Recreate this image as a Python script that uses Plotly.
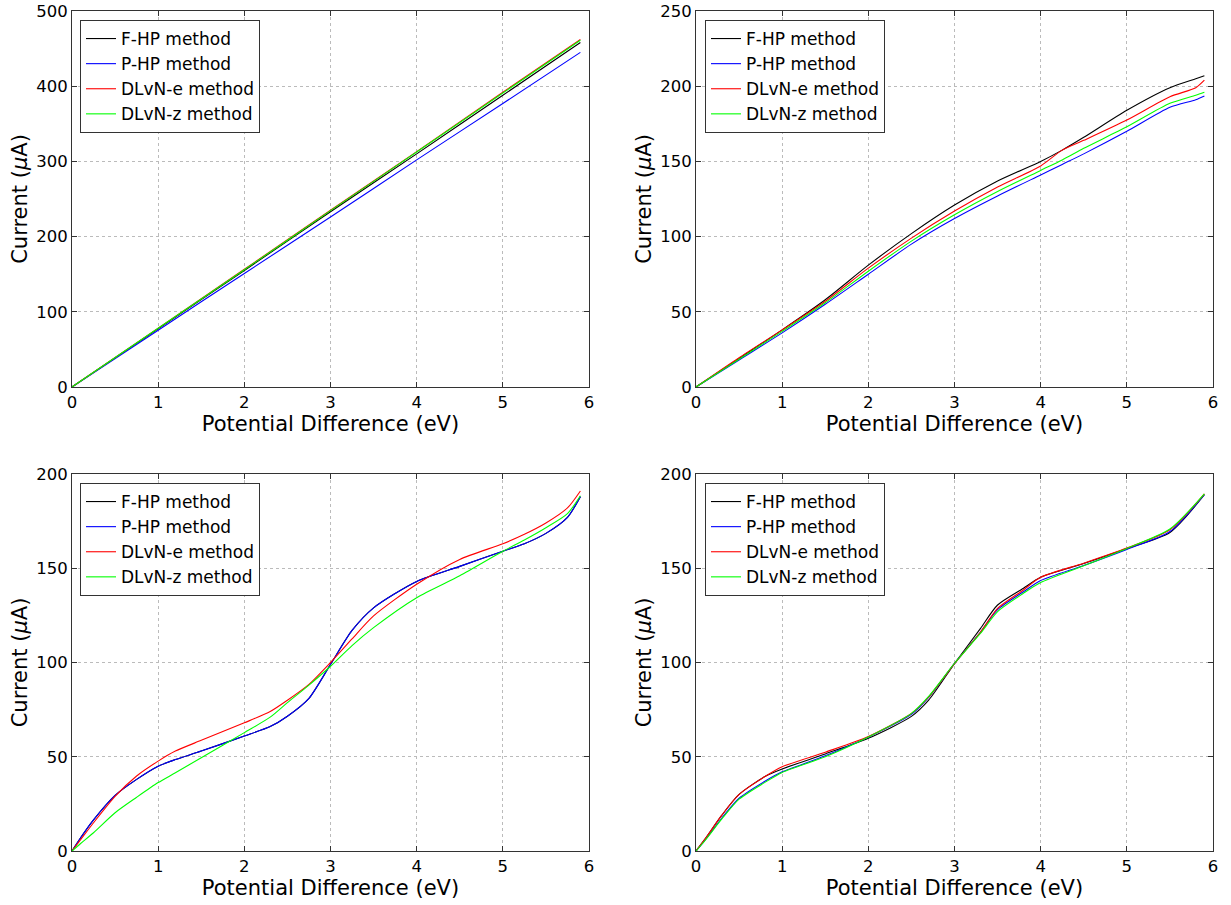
import plotly.graph_objects as go

# four panels of I-V curves, one legend per panel
methods = ["F-HP method", "P-HP method", "DLvN-e method", "DLvN-z method"]
colors = ["#000000", "#0000ff", "#ff0000", "#00ff00"]

# top left
x_tl = [0, 1, 2, 3, 4, 5, 5.9]
fhp_tl = [0, 77.5, 155, 233, 310, 388, 458]
php_tl = [0, 75.5, 151, 226, 302, 377, 445]
dlve_tl = [0, 78.3, 156.5, 235, 313, 392, 462]
dlvz_tl = [0, 78.1, 156, 234.5, 312.5, 391, 461]

# top right
x_tr = [0, 0.5, 1, 1.5, 2, 2.5, 3, 3.5, 4, 4.25, 4.5, 5, 5.5, 5.8, 5.9]
fhp_tr = [0, 19, 38, 58, 81, 102, 121, 137, 150, 157.5, 166, 184, 199, 205, 207]
php_tr = [0, 18, 36, 55, 75, 95, 112, 127, 141, 148, 155, 170, 186, 191, 193.5]
dlve_tr = [0, 19.5, 38, 57, 79, 99, 117, 133, 147, 157.5, 164, 177.5, 193, 199, 204]
dlvz_tr = [0, 18.5, 37, 56, 77, 97, 114.5, 130, 144, 151, 158.7, 173, 188.6, 194, 196]

# bottom left
x_bl = [0, 0.1, 0.25, 0.5, 0.75, 1, 1.2, 1.5, 2, 2.3, 2.5, 2.75, 3, 3.25, 3.5, 4, 4.5, 5, 5.25, 5.5, 5.75, 5.9]
fhp_bl = [0, 7, 16.5, 29.5, 38, 45, 48.5, 53, 61, 66, 71.5, 81, 99, 117, 129, 143, 151, 159, 163, 168.5, 177, 188]
php_bl = [0, 7, 16.5, 29.5, 38, 45, 48.5, 53, 61, 66, 71.5, 81, 99, 117, 129, 143, 151, 159, 163, 168.5, 177, 188]
dlve_bl = [0, 6, 15, 29, 39.8, 47.7, 53, 58.7, 68, 74, 80, 88.4, 100, 112.5, 124.7, 141.5, 154.7, 163, 168, 174, 182, 191]
dlvz_bl = [0, 4, 9.7, 20.3, 28.5, 36.3, 41.5, 49.5, 62.8, 71, 78.7, 88, 98, 109, 118.5, 134.4, 146, 159, 165, 171.5, 179, 188.5]

# bottom right
x_br = [0, 0.1, 0.3, 0.5, 0.8, 1, 1.5, 2, 2.5, 2.7, 3, 3.3, 3.5, 3.8, 4, 4.5, 5, 5.5, 5.9]
fhp_br = [0, 6, 19, 30, 39.5, 43.5, 51.5, 59.8, 71.4, 80, 99.4, 118, 130.5, 139.4, 145.2, 152.5, 160.5, 169, 189]
php_br = [0, 5.5, 17.5, 28, 37, 42, 50.5, 60.5, 72.5, 81.5, 99.5, 116, 128, 137.5, 143.5, 151.5, 160, 169.5, 189]
dlve_br = [0, 6, 19, 30, 39.5, 44.7, 52.4, 60.7, 73, 81.7, 99.4, 116, 128.7, 138.5, 145.2, 152.7, 160.7, 170.4, 189.5]
dlvz_br = [0, 5.3, 17, 27.5, 36.4, 41.7, 50, 60.5, 73, 82, 99.6, 115.4, 127, 136.7, 142.4, 151.3, 160.5, 170.8, 189.5]

panels = [
    (x_tl, [fhp_tl, php_tl, dlve_tl, dlvz_tl], 500, 100),
    (x_tr, [fhp_tr, php_tr, dlve_tr, dlvz_tr], 250, 50),
    (x_bl, [fhp_bl, php_bl, dlve_bl, dlvz_bl], 200, 50),
    (x_br, [fhp_br, php_br, dlve_br, dlvz_br], 200, 50),
]

W, H = 1231, 905
xdoms = [[72 / W, 589 / W], [696 / W, 1213 / W]]
ydoms = [[1 - 387 / H, 1 - 11 / H], [1 - 851 / H, 1 - 474 / H]]
FONT = "DejaVu Sans"

fig = go.Figure()
layout = dict(
    width=W, height=H,
    margin=dict(l=0, r=0, t=0, b=0),
    paper_bgcolor="white", plot_bgcolor="white",
    font=dict(family=FONT, color="black"),
)

for i, (xs, series, ymax, ystep) in enumerate(panels):
    n = i + 1
    sfx = "" if n == 1 else str(n)
    leg = "legend" + sfx
    col, row = i % 2, i // 2
    for name, color, ys in zip(methods, colors, series):
        fig.add_trace(go.Scatter(
            x=xs, y=ys, mode="lines", name=name,
            line=dict(color=color, width=1.1, shape="spline", smoothing=0.7),
            xaxis="x" + sfx, yaxis="y" + sfx, legend=leg,
        ))
    axis_common = dict(
        showline=True, linecolor="#333", linewidth=1, mirror="ticks",
        ticks="inside", ticklen=5, tickcolor="#333", automargin=False,
        showgrid=True, gridcolor="#bbb", griddash="dot", gridwidth=1,
        zeroline=False, tickfont=dict(size=16.5, family=FONT),
    )
    layout["xaxis" + sfx] = dict(
        axis_common, domain=xdoms[col], anchor="y" + sfx,
        range=[0, 6], dtick=1, tick0=0,
        title=dict(text="Potential Difference (eV)", font=dict(size=21, family=FONT), standoff=4),
    )
    layout["yaxis" + sfx] = dict(
        axis_common, domain=ydoms[row], anchor="x" + sfx,
        range=[0, ymax], dtick=ystep, tick0=0,
        title=dict(text="Current (<i>μ</i>A)", font=dict(size=21, family=FONT), standoff=2),
    )
    lx = (80 if col == 0 else 705) / W
    ly = 1 - (20 if row == 0 else 483) / H
    layout[leg] = dict(
        x=lx, y=ly, xanchor="left", yanchor="top",
        bgcolor="white", bordercolor="#333", borderwidth=1,
        font=dict(size=17, family=FONT),
    )

fig.update_layout(**layout)
# drop the browser's default body margin so the figure sits at the page corner
fig.write_html("out.html", config={"displayModeBar": False},
               post_script="document.body.style.margin='0';")
